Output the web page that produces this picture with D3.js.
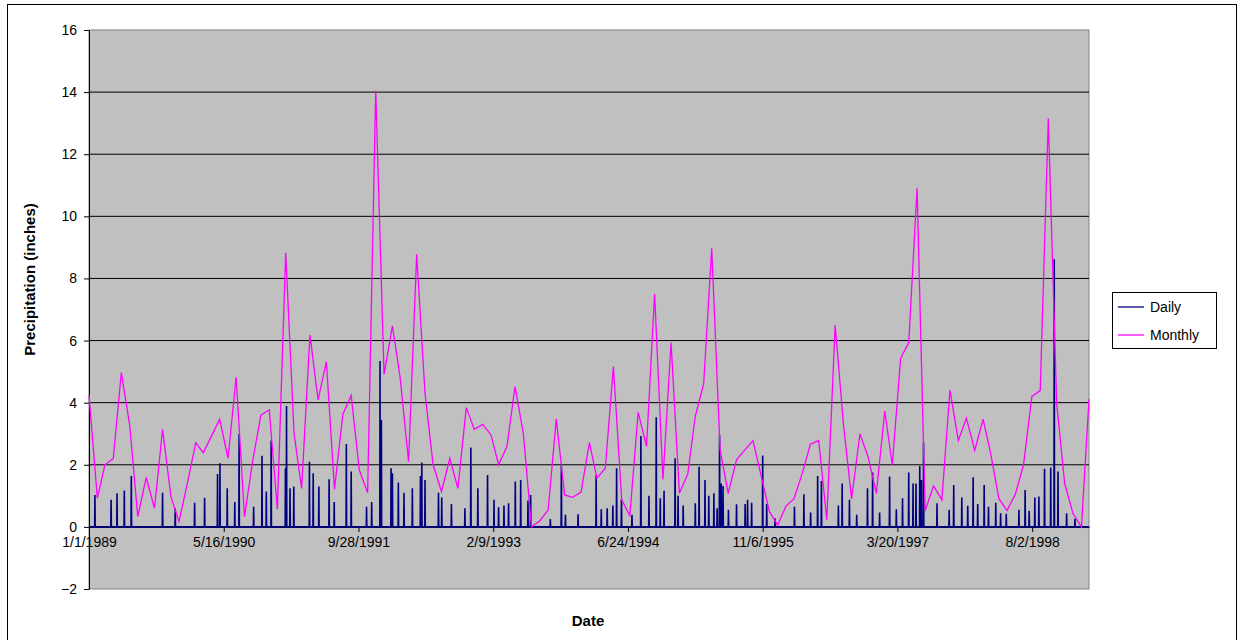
<!DOCTYPE html>
<html>
<head>
<meta charset="utf-8">
<script src="https://cdn.jsdelivr.net/npm/d3@7"></script>
<style>
  body { margin: 0; background: #fff; }
  text { font-family: Arial, "Liberation Sans", sans-serif; }
</style>
</head>
<body>
<div id="chart"></div>
<script>
// Monthly totals, one per month from Jan 1989 to Mar 1999
const monthlyValues = [
  4.25, 0.92, 2.0, 2.2, 4.97, 3.28, 0.33, 1.59, 0.6, 3.14, 0.98, 0.17,
  1.4, 2.71, 2.39, 2.93, 3.47, 2.21, 4.82, 0.33, 2.16, 3.6, 3.77, 0.57,
  8.83, 3.0, 1.24, 6.18, 4.09, 5.32, 1.21, 3.63, 4.23, 1.83, 1.1, 14.05,
  4.91, 6.47, 4.79, 2.1, 8.78, 4.3, 2.0, 1.14, 2.21, 1.24, 3.84, 3.14,
  3.3, 2.96, 2.0, 2.59, 4.52, 3.0, 0.0, 0.19, 0.55, 3.47, 1.03, 0.95,
  1.12, 2.71, 1.57, 1.89, 5.16, 0.87, 0.36, 3.69, 2.59, 7.5, 1.53, 5.94,
  1.08, 1.7, 3.57, 4.6, 8.97, 2.48, 1.08, 2.16, 2.48, 2.78, 1.62, 0.49,
  0.06, 0.68, 0.9, 1.73, 2.66, 2.78, 0.23, 6.5, 3.28, 0.9, 3.0, 2.26,
  1.08, 3.73, 2.0, 5.43, 5.93, 10.9, 0.52, 1.32, 0.87, 4.41, 2.78, 3.5,
  2.46, 3.47, 2.37, 0.9, 0.53, 1.06, 2.0, 4.2, 4.39, 13.15, 3.98, 1.38,
  0.42, 0.0, 4.11
];

// Daily rainfall spikes: day number since 1/1/1989 and inches (other days ~0)
const dailyDays = [
  22, 82, 104, 131, 157, 273, 320, 392, 429, 477, 486, 513, 541, 557, 611, 642, 658, 676, 729, 733, 746,
  760, 818, 832, 853, 891, 910, 955, 973, 1030, 1049, 1080, 1085, 1121, 1126, 1148, 1169, 1200, 1230,
  1235, 1247, 1297, 1309, 1345, 1395, 1417, 1443, 1479, 1503,
  1520, 1540, 1557, 1582, 1602, 1629, 1639, 1712, 1753, 1768, 1815, 1882, 1901, 1923, 1944, 1958, 1976,
  2015, 2048, 2078, 2105, 2120, 2134, 2175, 2186, 2205, 2250,
  2264, 2286, 2300, 2319, 2331, 2340, 2346, 2353, 2373, 2403, 2435, 2444, 2459, 2500, 2515, 2546, 2618,
  2653, 2678, 2704, 2718, 2781, 2795, 2822, 2849, 2889, 2908, 2934, 2971,
  2996, 3019, 3042, 3058, 3069, 3083, 3089, 3097, 3147, 3192, 3209, 3239, 3261, 3281, 3298, 3322, 3338,
  3365, 3383, 3404, 3451, 3474, 3489, 3510, 3525, 3546, 3569, 3582, 3596, 3628, 3659
];
const dailyValues = [
  1.03, 0.87, 1.08, 1.17, 1.64, 1.1, 0.6, 0.78, 0.94, 1.7, 2.05, 1.24, 0.8, 2.99, 0.65, 2.29, 1.14, 2.78, 1.89, 3.89, 1.24,
  1.3, 2.1, 1.73, 1.3, 1.53, 0.8, 2.67, 1.78, 0.65, 0.8, 5.34, 3.44, 1.89, 1.73, 1.43, 1.1, 1.24, 1.64,
  2.07, 1.51, 1.1, 0.95, 0.74, 0.6, 2.56, 1.24, 1.67, 0.87,
  0.63, 0.69, 0.76, 1.46, 1.51, 0.85, 1.03, 0.25, 2.02, 0.39, 0.41, 1.67, 0.57, 0.6, 0.69, 1.89, 0.89,
  0.39, 2.93, 1.0, 3.53, 0.92, 1.16, 2.21, 1.0, 0.69, 0.76,
  1.94, 1.51, 1.0, 1.08, 0.6, 2.96, 1.4, 1.32, 0.55, 0.73, 0.74, 0.87, 0.78, 2.3, 0.74, 0.28, 0.65,
  1.05, 0.46, 1.64, 1.48, 0.69, 1.4, 0.87, 0.39, 1.24, 1.75, 0.46, 1.62,
  0.57, 0.92, 1.75, 1.4, 1.4, 1.96, 1.51, 2.72, 0.76, 0.55, 1.35, 0.95, 0.68, 1.6, 0.74, 1.35, 0.65,
  0.78, 0.44, 0.42, 0.55, 1.19, 0.52, 0.95, 0.98, 1.87, 1.91, 8.62, 1.78, 0.44, 0.26
];

const yTicks = [-2, 0, 2, 4, 6, 8, 10, 12, 14, 16];
const xTickLabels = ['1/1/1989', '5/16/1990', '9/28/1991', '2/9/1993', '6/24/1994', '11/6/1995', '3/20/1997', '8/2/1998'];

const W = 1241, H = 640;
const plot = { left: 89, top: 30, right: 1089, bottom: 589 };

const start = new Date(1989, 0, 1);
const end = d3.timeMonth.offset(start, monthlyValues.length - 1);

const svg = d3.select('#chart').append('svg').attr('width', W).attr('height', H);

// Outer chart border
svg.append('rect')
  .attr('x', 7.5).attr('y', 4.5).attr('width', 1229).attr('height', 640)
  .attr('fill', '#fff').attr('stroke', '#000').attr('stroke-width', 1);

const x = d3.scaleTime().domain([start, end]).range([plot.left, plot.right]);
const y = d3.scaleLinear().domain([-2, 16]).range([plot.bottom, plot.top]);

// Plot area
svg.append('rect')
  .attr('x', plot.left).attr('y', plot.top)
  .attr('width', plot.right - plot.left).attr('height', plot.bottom - plot.top)
  .attr('fill', '#c0c0c0').attr('stroke', '#808080');

// Gridlines
svg.append('g').selectAll('line')
  .data(yTicks.filter(d => d !== -2 && d !== 16))
  .join('line')
  .attr('x1', plot.left).attr('x2', plot.right)
  .attr('y1', d => y(d)).attr('y2', d => y(d))
  .attr('stroke', '#000').attr('stroke-width', 1);

// Y axis
const yAxis = svg.append('g')
  .attr('transform', `translate(${plot.left},0)`)
  .call(d3.axisLeft(y).tickValues(yTicks).tickSize(5).tickSizeOuter(0));
yAxis.select('.domain').attr('stroke', '#000');
yAxis.selectAll('text').attr('font-size', 14).attr('fill', '#000').attr('dx', -4);

// X axis on zero line
const xTickDates = xTickLabels.map(s => {
  const [m, d, yr] = s.split('/').map(Number);
  return new Date(yr, m - 1, d);
});
const xAxis = svg.append('g')
  .attr('transform', `translate(0,${y(0)})`)
  .call(d3.axisBottom(x).tickValues(xTickDates).tickSize(5).tickSizeOuter(0)
    .tickFormat((d, i) => xTickLabels[i]));
xAxis.select('.domain').attr('stroke', '#000');
xAxis.selectAll('text').attr('font-size', 14).attr('fill', '#000').attr('dy', 12);

// Daily line: each spike rises from the zero baseline and falls back
const dailyPts = [{ date: start, v: 0 }];
dailyDays.forEach((d, i) => {
  dailyPts.push({ date: d3.timeDay.offset(start, d - 1), v: 0 });
  dailyPts.push({ date: d3.timeDay.offset(start, d), v: dailyValues[i] });
  dailyPts.push({ date: d3.timeDay.offset(start, d + 1), v: 0 });
});
dailyPts.push({ date: end, v: 0 });

const line = d3.line().x(d => x(d.date)).y(d => y(d.v));

svg.append('path')
  .datum(dailyPts)
  .attr('d', line)
  .attr('fill', 'none')
  .attr('stroke', '#000080')
  .attr('stroke-width', 1.6);

const monthlyPts = monthlyValues.map((v, i) => ({ date: d3.timeMonth.offset(start, i), v }));
svg.append('path')
  .datum(monthlyPts)
  .attr('d', line)
  .attr('fill', 'none')
  .attr('stroke', '#ff00ff')
  .attr('stroke-width', 1.3);

// Axis titles
svg.append('text')
  .attr('transform', `translate(35,${(plot.top + plot.bottom) / 2 - 30}) rotate(-90)`)
  .attr('text-anchor', 'middle')
  .attr('font-size', 15).attr('font-weight', 'bold')
  .text('Precipitation (inches)');

svg.append('text')
  .attr('x', 588).attr('y', 626)
  .attr('text-anchor', 'middle')
  .attr('font-size', 15).attr('font-weight', 'bold')
  .text('Date');

// Legend
const legend = svg.append('g').attr('transform', 'translate(1112,292)');
legend.append('rect')
  .attr('x', 0.5).attr('y', 0.5).attr('width', 104).attr('height', 56)
  .attr('fill', '#fff').attr('stroke', '#000');
[['Daily', '#000080'], ['Monthly', '#ff00ff']].forEach(([name, color], i) => {
  const cy = 15 + i * 28;
  legend.append('line')
    .attr('x1', 6).attr('x2', 32).attr('y1', cy).attr('y2', cy)
    .attr('stroke', color).attr('stroke-width', 1.3);
  legend.append('text')
    .attr('x', 38).attr('y', cy + 5)
    .attr('font-size', 14)
    .text(name);
});
</script>
</body>
</html>
